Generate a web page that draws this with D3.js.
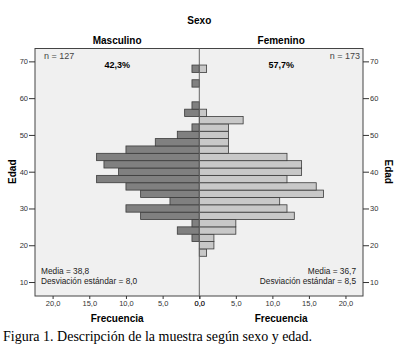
<!DOCTYPE html>
<html>
<head>
<meta charset="utf-8">
<script src="https://cdn.jsdelivr.net/npm/d3@7"></script>
<style>
    body { margin: 0; background: #ffffff; }
    .myaxis text { font-family: "Liberation Sans", Arial, sans-serif; font-size: 7.5px; fill: #333333; }
    .myaxis line { stroke: #333333; }
    .myaxis path { display: none; }
</style>
</head>
<body>
<div id="pyramid"></div>
<script>
// bins of 2 years, given by their centre age
var ages = [18, 20, 22, 24, 26, 28, 30, 32, 34, 36, 38, 40, 42, 44, 46, 48, 50, 52, 54, 56, 58, 60, 62, 64, 66, 68];
var maleCounts = [0, 0, 1, 3, 1, 8, 10, 4, 8, 10, 14, 11, 13, 14, 10, 6, 3, 1, 0, 2, 1, 0, 0, 1, 0, 1];
var femaleCounts = [1, 2, 2, 5, 5, 13, 12, 11, 17, 16, 12, 14, 14, 12, 4, 4, 4, 4, 6, 1, 0, 0, 0, 0, 0, 1];

var ageTicks = [10, 20, 30, 40, 50, 60, 70];
var freqTicks = [0, 5, 10, 15, 20];

var groups = ["Masculino", "Femenino"];
var groupN = ["n = 127", "n = 173"];
var groupPct = ["42,3%", "57,7%"];
var groupMean = ["Media = 38,8", "Media = 36,7"];
var groupSd = ["Desviación estándar = 8,0", "Desviación estándar = 8,5"];

// plot box (note: "top" is taken by window.top, so use p* names)
var width = 401, height = 352;
var pLeft = 35, pMid = 199.3, pRight = 363, pTop = 48.5, pBottom = 296;
var font = "'Liberation Sans', Arial, sans-serif";

var svg = d3.select("#pyramid")
    .append("svg")
    .attr("width", width)
    .attr("height", height);

// scales
var y = d3.scaleLinear().domain([6.2, 73.5]).range([pBottom, pTop]);
var xLeft = d3.scaleLinear().domain([0, 22.4]).range([pMid, pLeft]);
var xRight = d3.scaleLinear().domain([0, 22.4]).range([pMid, pRight]);

var fmt = function (d) { return d3.format(".1f")(d).replace(".", ","); };

// panel background
svg.append("rect")
    .attr("x", pLeft).attr("y", pTop)
    .attr("width", pRight - pLeft).attr("height", pBottom - pTop)
    .attr("fill", "#f0f0f0");

var rows = ages.map(function (a, i) { return { age: a, m: maleCounts[i], f: femaleCounts[i] }; });

// male bars
svg.append("g")
    .selectAll("rect")
    .data(rows.filter(function (d) { return d.m > 0; }))
    .enter().append("rect")
    .attr("x", function (d) { return xLeft(d.m); })
    .attr("y", function (d) { return y(d.age + 1); })
    .attr("width", function (d) { return pMid - xLeft(d.m); })
    .attr("height", function (d) { return y(d.age - 1) - y(d.age + 1); })
    .attr("fill", "#808080")
    .attr("stroke", "#3a3a3a")
    .attr("stroke-width", 0.8);

// female bars
svg.append("g")
    .selectAll("rect")
    .data(rows.filter(function (d) { return d.f > 0; }))
    .enter().append("rect")
    .attr("x", pMid)
    .attr("y", function (d) { return y(d.age + 1); })
    .attr("width", function (d) { return xRight(d.f) - pMid; })
    .attr("height", function (d) { return y(d.age - 1) - y(d.age + 1); })
    .attr("fill", "#c8c8c8")
    .attr("stroke", "#3a3a3a")
    .attr("stroke-width", 0.8);

// panel border + centre line
svg.append("rect")
    .attr("x", pLeft).attr("y", pTop)
    .attr("width", pRight - pLeft).attr("height", pBottom - pTop)
    .attr("fill", "none")
    .attr("stroke", "#444444");
svg.append("line")
    .attr("x1", pMid).attr("x2", pMid)
    .attr("y1", pTop).attr("y2", pBottom)
    .attr("stroke", "#666666");

// Y axes
svg.append("g")
    .attr("class", "myaxis")
    .attr("transform", "translate(" + pLeft + ",0)")
    .call(d3.axisLeft(y).tickValues(ageTicks).tickSize(6).tickPadding(1));
svg.append("g")
    .attr("class", "myaxis")
    .attr("transform", "translate(" + pRight + ",0)")
    .call(d3.axisRight(y).tickValues(ageTicks).tickSize(6).tickPadding(1));

// X axes
svg.append("g")
    .attr("class", "myaxis")
    .attr("transform", "translate(0," + pBottom + ")")
    .call(d3.axisBottom(xLeft).tickValues(freqTicks).tickFormat(fmt).tickSize(3).tickPadding(2));
svg.append("g")
    .attr("class", "myaxis")
    .attr("transform", "translate(0," + pBottom + ")")
    .call(d3.axisBottom(xRight).tickValues(freqTicks).tickFormat(fmt).tickSize(3).tickPadding(2));

// titles
svg.append("text")
    .attr("x", pMid).attr("y", 24)
    .attr("text-anchor", "middle")
    .style("font-family", font).style("font-size", "10px").style("font-weight", "bold")
    .text("Sexo");

var centres = [(pLeft + pMid) / 2, (pMid + pRight) / 2];
groups.forEach(function (g, i) {
    svg.append("text")
        .attr("x", centres[i]).attr("y", 44)
        .attr("text-anchor", "middle")
        .style("font-family", font).style("font-size", "10px").style("font-weight", "bold")
        .text(g);
    svg.append("text")
        .attr("x", centres[i]).attr("y", 68)
        .attr("text-anchor", "middle")
        .style("font-family", font).style("font-size", "9px").style("font-weight", "bold")
        .text(groupPct[i]);
    svg.append("text")
        .attr("x", centres[i]).attr("y", 322)
        .attr("text-anchor", "middle")
        .style("font-family", font).style("font-size", "10px").style("font-weight", "bold")
        .text("Frecuencia");
    // n and stats: left panel anchored left, right panel anchored right
    var anchor = i == 0 ? "start" : "end";
    svg.append("text")
        .attr("x", i == 0 ? 44 : 360).attr("y", 59)
        .attr("text-anchor", anchor)
        .style("font-family", font).style("font-size", "9px").style("fill", "#444444")
        .text(groupN[i]);
    var sx = i == 0 ? 41 : 356;
    svg.append("text")
        .attr("x", sx).attr("y", 274)
        .attr("text-anchor", anchor)
        .style("font-family", font).style("font-size", "8.3px").style("fill", "#222222")
        .text(groupMean[i]);
    svg.append("text")
        .attr("x", sx).attr("y", 284)
        .attr("text-anchor", anchor)
        .style("font-family", font).style("font-size", "8.3px").style("fill", "#222222")
        .text(groupSd[i]);
});

// Edad labels
svg.append("text")
    .attr("transform", "translate(16," + y(40) + ") rotate(-90)")
    .attr("text-anchor", "middle")
    .style("font-family", font).style("font-size", "10px").style("font-weight", "bold")
    .text("Edad");
svg.append("text")
    .attr("transform", "translate(385," + y(40) + ") rotate(90)")
    .attr("text-anchor", "middle")
    .style("font-family", font).style("font-size", "10px").style("font-weight", "bold")
    .text("Edad");

// caption
svg.append("text")
    .attr("x", 3).attr("y", 341)
    .style("font-family", "'Liberation Serif', 'Times New Roman', serif").style("font-size", "14px")
    .text("Figura 1. Descripción de la muestra según sexo y edad.");
</script>
</body>
</html>
